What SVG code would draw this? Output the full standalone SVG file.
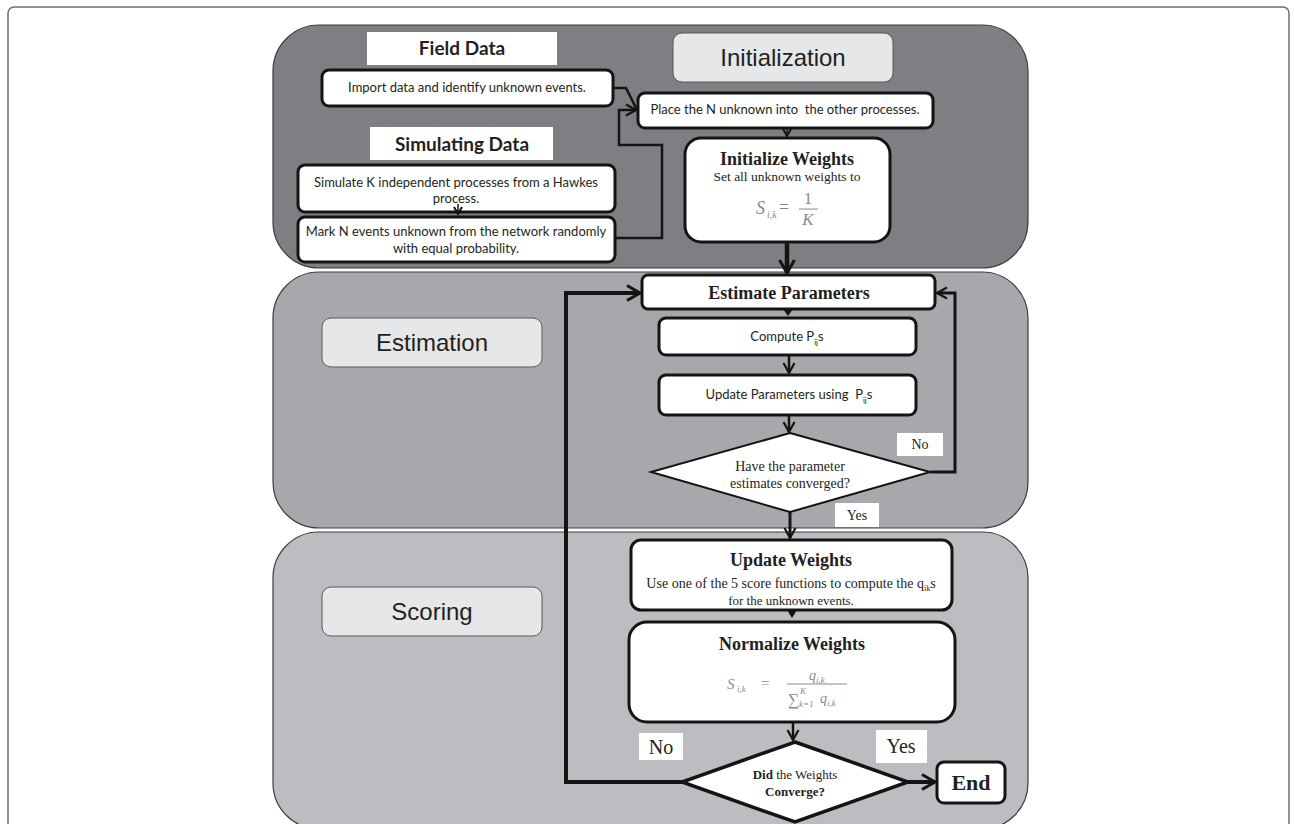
<svg xmlns="http://www.w3.org/2000/svg" width="1294" height="824" viewBox="0 0 1294 824">
<style>
.panel{stroke:#3d3d3d;stroke-width:1.2}
.sect{fill:#e6e7e8;stroke:#58595b;stroke-width:1}
.sectt{font-family:"Liberation Sans",Arial,sans-serif;font-size:24px;fill:#231f20;text-anchor:middle}
.box{fill:#fff;stroke:#141414;stroke-width:3}
.lbl{fill:#fff}
.cal{font-family:Lato,"Open Sans",sans-serif;font-size:13px;fill:#231f20;text-anchor:middle}
.calb{font-family:Lato,"Open Sans",sans-serif;font-size:19px;font-weight:bold;fill:#231f20;text-anchor:middle}
.ser{font-family:"Liberation Serif","Times New Roman",serif;font-size:14px;fill:#231f20;text-anchor:middle}
.serb{font-family:"Liberation Serif","Times New Roman",serif;font-size:18px;font-weight:bold;fill:#231f20;text-anchor:middle}
.math{font-family:"Liberation Serif","Times New Roman",serif;font-style:italic;fill:#8a8a8a}
.mathr{font-family:"Liberation Serif","Times New Roman",serif;fill:#8a8a8a}
.dia{fill:#fff;stroke:#141414}
.conn{fill:none;stroke:#141414;stroke-linejoin:miter}
</style>
<defs>
<marker id="vbig" markerUnits="userSpaceOnUse" markerWidth="20" markerHeight="20" refX="15" refY="9" orient="auto">
<path d="M2,1.5 L15,9 L2,16.5" fill="none" stroke="#141414" stroke-width="3"/>
</marker>
<marker id="vmid" markerUnits="userSpaceOnUse" markerWidth="16" markerHeight="16" refX="12" refY="7" orient="auto">
<path d="M2,1.5 L12,7 L2,12.5" fill="none" stroke="#141414" stroke-width="2.2"/>
</marker>
<marker id="vsm" markerUnits="userSpaceOnUse" markerWidth="12" markerHeight="12" refX="8" refY="5" orient="auto">
<path d="M1,1 L8,5 L1,9" fill="none" stroke="#141414" stroke-width="2"/>
</marker>
</defs>

<rect x="8" y="7" width="1281" height="840" rx="6" fill="#fff" stroke="#6d6e71" stroke-width="1.5"/>

<g id="panels">
<rect class="panel" x="273" y="25" width="755" height="243" rx="46" fill="#7e7f83"/>
<rect class="panel" x="273" y="272" width="755" height="256" rx="46" fill="#a7a8ab"/>
<rect class="panel" x="273" y="532" width="755" height="297" rx="46" fill="#bcbdc0"/>
</g>

<g id="sec-init"><rect class="sect" x="673" y="33" width="220" height="49" rx="9"/><text class="sectt" x="783" y="66">Initialization</text></g>
<g id="sec-est"><rect class="sect" x="322" y="318" width="220" height="49" rx="9"/><text class="sectt" x="432" y="351">Estimation</text></g>
<g id="sec-score"><rect class="sect" x="322" y="587" width="220" height="49" rx="9"/><text class="sectt" x="432" y="620">Scoring</text></g>

<g id="field-data"><rect class="lbl" x="367" y="32" width="190" height="33"/><text class="calb" x="462" y="55">Field Data</text></g>
<g id="sim-data"><rect class="lbl" x="370" y="127" width="183" height="33"/><text class="calb" x="462" y="151">Simulating Data</text></g>

<g id="import"><rect class="box" x="322" y="70" width="291" height="36" rx="7"/><text class="cal" x="467" y="92">Import data and identify unknown events.</text></g>
<g id="simulate"><rect class="box" x="298" y="165" width="317" height="47" rx="7"/><text class="cal" x="456" y="187">Simulate K independent processes from a Hawkes</text><text class="cal" x="456" y="203">process.</text></g>
<g id="mark"><rect class="box" x="298" y="217" width="317" height="45" rx="7"/><text class="cal" x="456" y="236">Mark N events unknown from the network randomly</text><text class="cal" x="456" y="253">with equal probability.</text></g>
<g id="place"><rect class="box" x="638" y="93" width="295" height="35" rx="7"/><text class="cal" x="785" y="114" xml:space="preserve">Place the N unknown into  the other processes.</text></g>

<g id="init-weights"><rect class="box" x="685" y="138" width="205" height="104" rx="16"/>
<text class="serb" x="787" y="165">Initialize Weights</text>
<text class="ser" x="787" y="181" style="font-size:13.5px">Set all unknown weights to</text>
<text class="math" x="756" y="214" font-size="18">S</text><text class="math" x="767" y="218" font-size="10">i,k</text>
<text class="mathr" x="779" y="213" font-size="18">=</text>
<text class="mathr" x="808" y="204" font-size="17" text-anchor="middle">1</text>
<line x1="799" y1="209" x2="818" y2="209" stroke="#8a8a8a" stroke-width="1"/>
<text class="math" x="808" y="225" font-size="17" text-anchor="middle">K</text>
</g>

<g id="est-params"><rect class="box" x="642" y="275" width="293" height="34" rx="6"/><text class="serb" x="789" y="299">Estimate Parameters</text></g>
<g id="compute"><rect class="box" x="659" y="318" width="257" height="37" rx="7"/><text class="cal" x="787" y="341">Compute P<tspan style="font-size:8px" dy="4">ij</tspan><tspan dy="-4">s</tspan></text></g>
<g id="update-params"><rect class="box" x="659" y="375" width="257" height="40" rx="7"/><text class="cal" x="789" y="399" xml:space="preserve">Update Parameters using  P<tspan style="font-size:8px" dy="4">ij</tspan><tspan dy="-4">s</tspan></text></g>
<g id="converged1"><polygon class="dia" stroke-width="2" points="790,433 930,472 790,512 651,472"/><text class="ser" x="790" y="471">Have the parameter</text><text class="ser" x="790" y="488">estimates converged?</text></g>

<g id="update-weights"><rect class="box" x="631" y="540" width="321" height="70" rx="10"/>
<text class="serb" x="791" y="566">Update Weights</text>
<text class="ser" x="791" y="588">Use one of the 5 score functions to compute the q<tspan style="font-size:8px" dy="3">ik</tspan><tspan dy="-3">s</tspan></text>
<text class="ser" x="791" y="605" style="font-size:13px">for the unknown events.</text></g>

<g id="normalize"><rect class="box" x="629" y="622" width="326" height="100" rx="18"/>
<text class="serb" x="792" y="650">Normalize Weights</text>
<text class="math" x="727" y="689" font-size="15">S</text><text class="math" x="737" y="692" font-size="9">i,k</text>
<text class="mathr" x="761" y="688" font-size="15">=</text>
<text class="math" x="809" y="680" font-size="14">q</text><text class="math" x="816" y="683" font-size="9">i,k</text>
<line x1="787" y1="684" x2="847" y2="684" stroke="#8a8a8a" stroke-width="1"/>
<text class="mathr" x="788" y="705" font-size="16">∑</text>
<text class="math" x="800" y="694" font-size="9">K</text>
<text class="math" x="799" y="707" font-size="9">k=1</text>
<text class="math" x="820" y="703" font-size="14">q</text><text class="math" x="827" y="706" font-size="9">i,k</text>
</g>

<g id="converged2"><polygon class="dia" stroke-width="3.5" points="795,742 908,782 795,822 682,782"/>
<text class="ser" x="795" y="779" style="font-size:13px"><tspan font-weight="bold">Did</tspan> the Weights</text>
<text class="ser" x="795" y="796" style="font-size:13px;font-weight:bold">Converge?</text></g>

<g id="end"><rect class="box" x="937" y="762" width="68" height="41" rx="7"/><text class="serb" x="971" y="790" style="font-size:22px">End</text></g>

<g id="labels">
<rect class="lbl" x="897" y="433" width="46" height="23"/><text class="ser" x="920" y="449">No</text>
<rect class="lbl" x="835" y="503" width="44" height="24"/><text class="ser" x="857" y="520">Yes</text>
<rect class="lbl" x="639" y="733" width="44" height="27"/><text class="ser" x="661" y="754" style="font-size:20px">No</text>
<rect class="lbl" x="876" y="730" width="51" height="33"/><text class="ser" x="901" y="753" style="font-size:20px">Yes</text>
</g>

<g id="connectors">
<path class="conn" stroke-width="2.5" d="M613,88 H626 L637,110" />
<path class="conn" stroke-width="2.5" d="M615,238 H662 V145 H619 V110 H636" marker-end="url(#vmid)"/>
<path class="conn" stroke-width="1.5" d="M458,204 V214" marker-end="url(#vsm)"/>
<path class="conn" stroke-width="1.5" d="M787,127 V136" marker-end="url(#vsm)"/>
<path class="conn" stroke-width="4.5" d="M787,242 V273" marker-end="url(#vbig)"/>
<polygon points="783,309 793,309 788,316" fill="#141414"/>
<path class="conn" stroke-width="2.5" d="M789,355 V373" marker-end="url(#vmid)"/>
<path class="conn" stroke-width="2.5" d="M789,415 V432" marker-end="url(#vmid)"/>
<path class="conn" stroke-width="3" d="M930,472 H955 V293 H937" marker-end="url(#vmid)"/>
<path class="conn" stroke-width="3" d="M790,512 V538" marker-end="url(#vmid)"/>
<polygon points="787,610 797,610 792,618" fill="#141414"/>
<path class="conn" stroke-width="2.5" d="M793,722 V740" marker-end="url(#vmid)"/>
<path class="conn" stroke-width="4" d="M682,782 H566 V293 H640" marker-end="url(#vbig)"/>
<path class="conn" stroke-width="4" d="M908,782 H935" marker-end="url(#vbig)"/>
</g>
</svg>
